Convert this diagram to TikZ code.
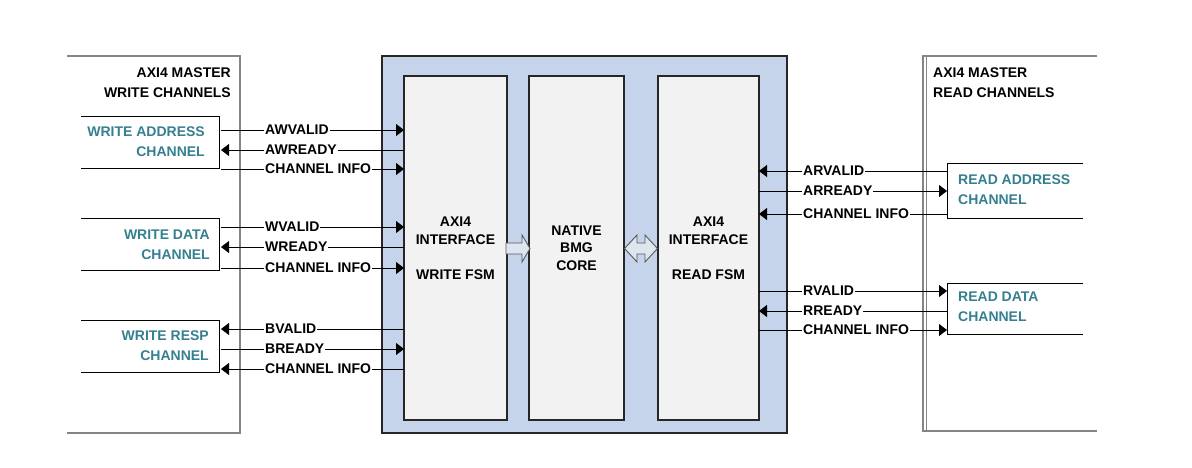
\documentclass[tikz,border=0pt]{standalone}
\usepackage{fontspec}
\setmainfont{Liberation Sans}
\usetikzlibrary{arrows.meta}
\definecolor{teal2}{HTML}{357F91}
\definecolor{bluefill}{HTML}{C5D3EB}
\definecolor{boxfill}{HTML}{F2F2F2}
\definecolor{mgray}{HTML}{858585}
\definecolor{arrfill}{HTML}{DDE5EE}
\begin{document}
\begin{tikzpicture}[x=1pt,y=-1pt,
  txt/.style={font=\fontsize{14}{20}\selectfont\bfseries, inner sep=0pt},
  chtext/.style={txt, text=teal2},
  fsmtext/.style={font=\fontsize{14}{17.5}\selectfont\bfseries, inner sep=0pt, align=center},
  lbl/.style={txt, fill=white, inner xsep=1pt, inner ysep=0pt, anchor=west},
  chanbox/.style={draw=none, inner sep=0pt, outer sep=0pt},
  inner/.style={draw=black!85, line width=1.3pt, fill=boxfill, inner sep=0pt, outer sep=0pt},
  master/.style={draw=mgray, line width=1.6pt},
  sig/.style={line width=0.8pt},
  tip/.style={-{Triangle[length=8pt,width=12pt]}},
  hollow/.style={draw=black!65, line width=0.9pt, fill=arrfill}
]
\useasboundingbox (0,0) rectangle (1192,467);

% master boxes
\draw[master] (67,56) -- (240,56) -- (240,433) -- (67,433);
\draw[master] (1097,56) -- (923,56) -- (923,431) -- (1097,431);
\draw[draw=mgray, line width=0.8pt] (926,57) -- (926,430);

\node[txt, align=right, anchor=east] (wtitle) at (231,83) {AXI4 MASTER\\WRITE CHANNELS};
\node[txt, align=left, anchor=west] (rtitle) at (933,83) {AXI4 MASTER\\READ CHANNELS};

% central block
\node[draw=black!85, line width=1.3pt, fill=bluefill, minimum width=405pt, minimum height=377pt, inner sep=0pt] (core) at (584.5,244.5) {};
\node[inner, minimum width=103pt, minimum height=344pt] (wfsm) at (455.5,248) {};
\node[inner, minimum width=95pt, minimum height=344pt] (native) at (576.5,248) {};
\node[inner, minimum width=101pt, minimum height=344pt] (rfsm) at (708.5,248) {};
\node[fsmtext] (wfsmt) at (wfsm.center) {AXI4\\INTERFACE\\[17.5pt]WRITE FSM};
\node[fsmtext] (nativet) at (native.center) {NATIVE\\BMG\\CORE};
\node[fsmtext] (rfsmt) at (rfsm.center) {AXI4\\INTERFACE\\[17.5pt]READ FSM};

% hollow arrows
\draw[hollow] (506,243) -- (522,243) -- (522,235) -- (530,248.5) -- (522,262) -- (522,254) -- (506,254) -- cycle;
\draw[hollow] (624.5,248.5) -- (637,235) -- (637,243) -- (645,243) -- (645,235) -- (657.5,248.5) -- (645,262) -- (645,254) -- (637,254) -- (637,262) -- cycle;

% left channel boxes
\node[chanbox, minimum width=138pt, minimum height=52pt] (wa) at (150,142) {};
\node[chanbox, minimum width=138pt, minimum height=52pt] (wd) at (150,244) {};
\node[chanbox, minimum width=138pt, minimum height=52pt] (wr) at (150,346) {};
\foreach \b in {wa,wd,wr}{
  \draw[line width=0.9pt] (\b.north west) -- (\b.north east) -- (\b.south east) -- (\b.south west);
}
\node[chtext, align=right, anchor=east] (wat) at (205,142) {WRITE ADDRESS\\CHANNEL};
\node[chtext, align=right, anchor=east] (wdt) at (210,244.5) {WRITE DATA\\CHANNEL};
\node[chtext, align=right, anchor=east] (wrt) at (209,346) {WRITE RESP\\CHANNEL};

% right channel boxes
\node[chanbox, minimum width=136pt, minimum height=55pt] (ra) at (1015,190.5) {};
\node[chanbox, minimum width=136pt, minimum height=51pt] (rd) at (1015,308.5) {};
\foreach \b in {ra,rd}{
  \draw[line width=0.9pt] (\b.north east) -- (\b.north west) -- (\b.south west) -- (\b.south east);
}
\node[chtext, align=left, anchor=west] (rat) at (958,190) {READ ADDRESS\\CHANNEL};
\node[chtext, align=left, anchor=west] (rdt) at (958,307) {READ DATA\\CHANNEL};

% write address signals
\draw[sig,tip] ([xshift=2pt]wa.east |- 0,130) -- (wfsm.west |- 0,130);
\node[lbl] (l1) at (264,130) {AWVALID};
\draw[sig,tip] (wfsm.west |- 0,150) -- ([xshift=2pt]wa.east |- 0,150);
\node[lbl] (l2) at (264,150) {AWREADY};
\draw[sig,tip] ([xshift=2pt]wa.east |- 0,169) -- (wfsm.west |- 0,169);
\node[lbl] (l3) at (264,169) {CHANNEL INFO};

% write data signals
\draw[sig,tip] ([xshift=2pt]wd.east |- 0,227) -- (wfsm.west |- 0,227);
\node[lbl] (l4) at (264,227) {WVALID};
\draw[sig,tip] (wfsm.west |- 0,247) -- ([xshift=2pt]wd.east |- 0,247);
\node[lbl] (l5) at (264,247) {WREADY};
\draw[sig,tip] ([xshift=2pt]wd.east |- 0,268) -- (wfsm.west |- 0,268);
\node[lbl] (l6) at (264,268) {CHANNEL INFO};

% write resp signals
\draw[sig,tip] (wfsm.west |- 0,329) -- ([xshift=2pt]wr.east |- 0,329);
\node[lbl] (l7) at (264,329) {BVALID};
\draw[sig,tip] ([xshift=2pt]wr.east |- 0,349) -- (wfsm.west |- 0,349);
\node[lbl] (l8) at (264,349) {BREADY};
\draw[sig,tip] (wfsm.west |- 0,369) -- ([xshift=2pt]wr.east |- 0,369);
\node[lbl] (l9) at (264,369) {CHANNEL INFO};

% read address signals
\draw[sig,tip] (ra.west |- 0,171) -- (rfsm.east |- 0,171);
\node[lbl] (r1) at (802,171) {ARVALID};
\draw[sig,tip] (rfsm.east |- 0,191) -- (ra.west |- 0,191);
\node[lbl] (r2) at (802,191) {ARREADY};
\draw[sig,tip] (ra.west |- 0,214) -- (rfsm.east |- 0,214);
\node[lbl] (r3) at (802,214) {CHANNEL INFO};

% read data signals
\draw[sig,tip] (rfsm.east |- 0,291) -- (rd.west |- 0,291);
\node[lbl] (r4) at (802,291) {RVALID};
\draw[sig,tip] (rd.west |- 0,311) -- (rfsm.east |- 0,311);
\node[lbl] (r5) at (802,311) {RREADY};
\draw[sig,tip] (rfsm.east |- 0,330) -- (rd.west |- 0,330);
\node[lbl] (r6) at (802,330) {CHANNEL INFO};
\end{tikzpicture}
\end{document}
